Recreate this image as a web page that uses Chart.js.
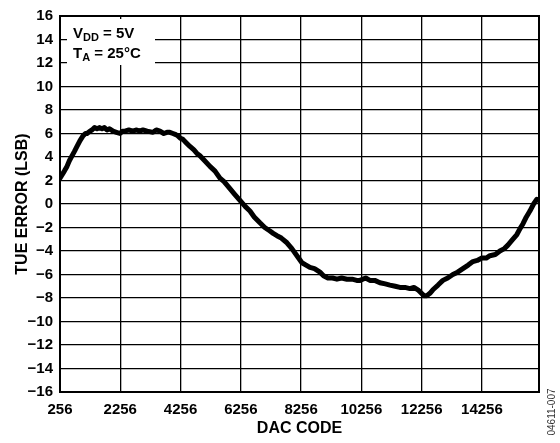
<!DOCTYPE html>
<html>
<head>
<meta charset="utf-8">
<script src="https://cdn.jsdelivr.net/npm/chart.js@4.4.0/dist/chart.umd.min.js"></script>
<style>
  html, body { margin: 0; padding: 0; background: #fff; }
  #wrap { width: 560px; height: 443px; position: relative; }
</style>
</head>
<body>
<div id="wrap"><canvas id="c" width="560" height="443"></canvas></div>
<script>
const dacCodes = [256,400,488,570,654,740,820,920,1019,1100,1152,1250,1317,1400,1483,1560,1649,1730,1815,1900,2014,2130,2246,2330,2412,2540,2677,2800,2900,3009,3150,3341,3450,3573,3700,3805,3900,4004,4100,4170,4250,4336,4450,4568,4700,4800,4900,5050,5232,5400,5563,5700,5895,6060,6227,6400,6559,6700,6890,7050,7222,7330,7454,7600,7786,7950,8118,8284,8420,8549,8700,8881,9000,9146,9300,9445,9600,9777,9950,10100,10208,10400,10539,10700,10871,11050,11203,11380,11534,11700,11866,12000,12131,12250,12330,12430,12530,12629,12800,12960,13120,13292,13450,13624,13800,13956,14100,14254,14400,14521,14700,14852,15000,15118,15250,15416,15520,15615,15730,15848,15970,16080];
const tueError = [2.2,2.8,3.2,3.7,4.1,4.5,4.9,5.4,5.8,6.0,6.0,6.2,6.3,6.5,6.4,6.5,6.4,6.5,6.3,6.4,6.2,6.1,6.0,6.2,6.2,6.3,6.2,6.3,6.2,6.3,6.2,6.1,6.3,6.2,6.0,6.1,6.1,6.0,5.9,5.8,5.6,5.5,5.2,4.9,4.6,4.3,4.1,3.7,3.2,2.8,2.2,1.9,1.3,0.8,0.3,-0.2,-0.6,-1.1,-1.6,-2.0,-2.3,-2.5,-2.7,-2.9,-3.3,-3.8,-4.4,-5.0,-5.2,-5.4,-5.5,-5.8,-6.1,-6.3,-6.3,-6.4,-6.3,-6.4,-6.4,-6.5,-6.5,-6.3,-6.5,-6.5,-6.7,-6.8,-6.9,-7.0,-7.1,-7.1,-7.2,-7.1,-7.3,-7.6,-7.8,-7.8,-7.6,-7.3,-6.9,-6.5,-6.3,-6.0,-5.8,-5.5,-5.2,-4.9,-4.8,-4.6,-4.6,-4.4,-4.3,-4.0,-3.8,-3.5,-3.1,-2.6,-2.1,-1.7,-1.1,-0.6,0.0,0.4];
const xTicks = [256,2256,4256,6256,8256,10256,12256,14256];
const xMin = 256, xMax = 16150;
const yMin = -16, yMax = 16, yStep = 2;
const xTitle = 'DAC CODE';
const yTitle = 'TUE ERROR (LSB)';
const figureId = '04611-007';

const FONT = '"Liberation Sans", Arial, sans-serif';

const annotate = {
  id: 'annotate',
  beforeDatasetsDraw(chart) {
    const ctx = chart.ctx;
    const a = chart.chartArea;
    ctx.save();
    ctx.fillStyle = '#fff';
    ctx.fillRect(a.left + 7, a.top + 3, 88, 46);
    ctx.fillStyle = '#000';
    ctx.textBaseline = 'alphabetic';
    ctx.textAlign = 'left';
    const drawSub = (x, y, main, sub, rest) => {
      ctx.font = 'bold 15px ' + FONT;
      ctx.fillText(main, x, y);
      let w = ctx.measureText(main).width;
      ctx.font = 'bold 11px ' + FONT;
      ctx.fillText(sub, x + w, y + 3);
      w += ctx.measureText(sub).width;
      ctx.font = 'bold 15px ' + FONT;
      ctx.fillText(rest, x + w, y);
    };
    drawSub(a.left + 13, a.top + 22, 'V', 'DD', ' = 5V');
    drawSub(a.left + 13, a.top + 42, 'T', 'A', ' = 25°C');
    ctx.restore();
  },
  afterDraw(chart) {
    const ctx = chart.ctx;
    ctx.save();
    ctx.translate(552, 412);
    ctx.rotate(-Math.PI / 2);
    ctx.font = '10px ' + FONT;
    ctx.fillStyle = '#333';
    ctx.textAlign = 'center';
    ctx.textBaseline = 'middle';
    ctx.fillText(figureId, 0, 0);
    ctx.restore();
  }
};

new Chart(document.getElementById('c'), {
  type: 'line',
  data: {
    datasets: [{
      data: dacCodes.map((x, i) => ({ x, y: tueError[i] })),
      borderColor: '#000',
      borderWidth: 5,
      pointRadius: 0,
      tension: 0,
      fill: false,
      borderJoinStyle: 'round',
      borderCapStyle: 'round'
    }]
  },
  options: {
    responsive: false,
    animation: false,
    events: [],
    layout: { padding: { top: 10, right: 21, left: 0, bottom: 0 } },
    plugins: { legend: { display: false }, tooltip: { enabled: false } },
    scales: {
      x: {
        type: 'linear',
        min: xMin, max: xMax,
        afterBuildTicks(scale) { scale.ticks = xTicks.map(v => ({ value: v })); },
        afterFit(scale) { scale.height = 51; },
        grid: { color: '#000', lineWidth: 1.3, drawTicks: false },
        border: { color: '#000', width: 2 },
        ticks: { color: '#000', font: { family: FONT, size: 15, weight: 'bold' }, padding: 9, maxRotation: 0, autoSkip: false,
                 callback: v => String(v) },
        title: { display: true, text: xTitle, color: '#000', font: { family: FONT, size: 16, weight: 'bold' }, padding: { top: 0, bottom: 5 } }
      },
      y: {
        min: yMin, max: yMax,
        afterFit(scale) { scale.width = 60; },
        grid: { color: '#000', lineWidth: 1.3, drawTicks: false },
        border: { color: '#000', width: 2 },
        ticks: { stepSize: yStep, color: '#000', font: { family: FONT, size: 15, weight: 'bold' }, padding: 7,
                 callback: v => (v < 0 ? '\u2212' + Math.abs(v) : String(v)) },
        title: { display: true, text: yTitle, color: '#000', font: { family: FONT, size: 16, weight: 'bold' }, padding: { top: 13, bottom: 0 } }
      }
    }
  },
  plugins: [annotate, {
    id: 'rightBorder',
    afterDraw(chart) {
      const a = chart.chartArea, ctx = chart.ctx;
      ctx.save();
      ctx.strokeStyle = '#000';
      ctx.lineWidth = 2;
      ctx.strokeRect(a.left, a.top, a.right - a.left, a.bottom - a.top);
      ctx.restore();
    }
  }]
});
</script>
</body>
</html>
